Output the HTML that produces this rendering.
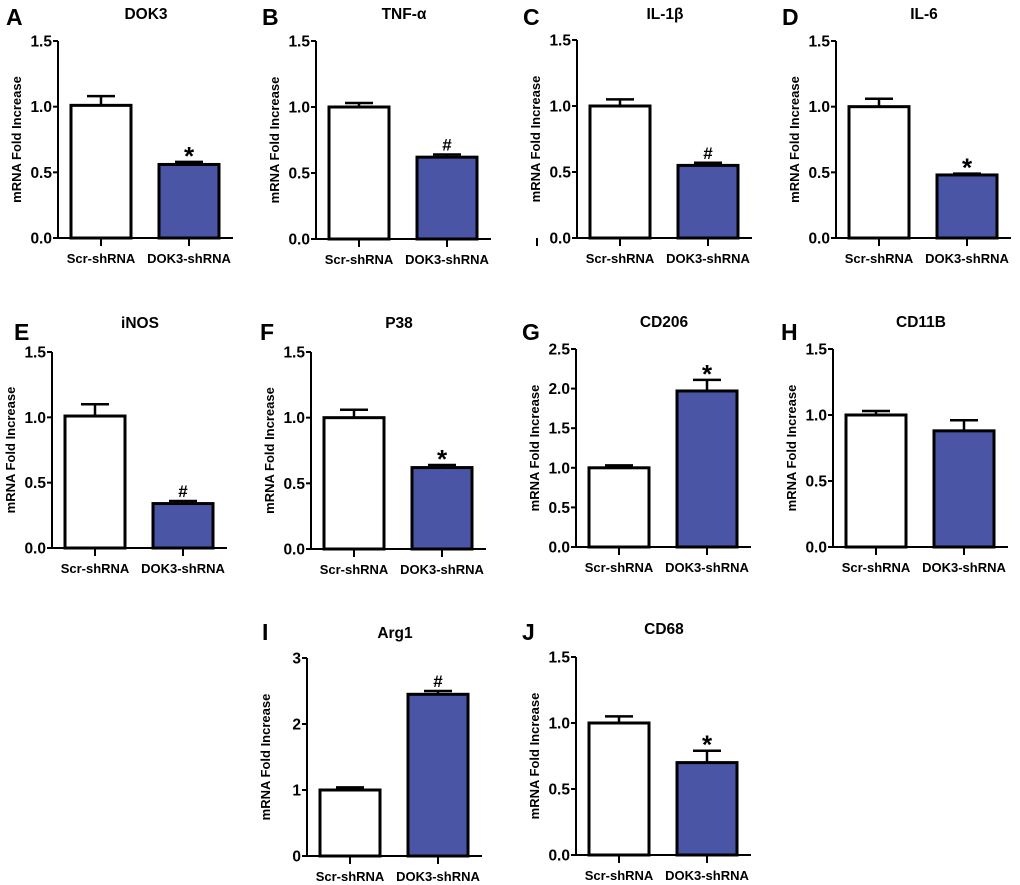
<!DOCTYPE html>
<html><head><meta charset="utf-8"><style>
body{margin:0;background:#fff;}
svg{display:block;font-family:"Liberation Sans",Arial,sans-serif;font-weight:bold;}
</style></head><body>
<svg id="fig" width="1020" height="885" viewBox="0 0 1020 885" xmlns="http://www.w3.org/2000/svg"></svg>
<script>
const panelLetters=["A","B","C","D","E","F","G","H","I","J"];
const panelTitles=["DOK3","TNF-α","IL-1β","IL-6","iNOS","P38","CD206","CD11B","Arg1","CD68"];
const groups=["Scr-shRNA","DOK3-shRNA"];
const scrMeans=[1.01,1.00,1.00,1.00,1.01,1.00,1.00,1.00,1.00,1.00];
const scrErr=[0.07,0.03,0.05,0.06,0.09,0.06,0.03,0.03,0.04,0.05];
const kdMeans=[0.56,0.62,0.55,0.48,0.34,0.62,1.97,0.88,2.45,0.70];
const kdErr=[0.02,0.02,0.02,0.01,0.02,0.02,0.14,0.08,0.05,0.09];
const sigMarks=["*","#","#","*","#","*","*","","#","*"];
const yMax=[1.5,1.5,1.5,1.5,1.5,1.5,2.5,1.5,3,1.5];
const yTicks=[
["0.0","0.5","1.0","1.5"],["0.0","0.5","1.0","1.5"],["0.0","0.5","1.0","1.5"],["0.0","0.5","1.0","1.5"],
["0.0","0.5","1.0","1.5"],["0.0","0.5","1.0","1.5"],["0.0","0.5","1.0","1.5","2.0","2.5"],["0.0","0.5","1.0","1.5"],
["0","1","2","3"],["0.0","0.5","1.0","1.5"]];
// layout (not data): axisX, topY, zeroY, letterX, letterY, titleY
const layout=[[58,41,238,6,25,19],[316,41,239,262,25,19],[577,40,238,523,25,19],[836,41,238,782,25,19],
[52,352,548,14,340,328],[311,352,549,260,340,328],[576,349,547,522,340,327],[833,349,547,781,340,327],
[307,658,856,262,640,638],[576,657,855,522,640,634]];
const NS="http://www.w3.org/2000/svg";
const svg=document.getElementById('fig');
function mk(tag,attrs,parent,text){const e=document.createElementNS(NS,tag);for(const k in attrs)e.setAttribute(k,attrs[k]);if(text!==undefined)e.textContent=text;(parent||svg).appendChild(e);return e;}
panelLetters.forEach((L,i)=>{
  const [ax,top,zero,lx,ly,ty]=layout[i];
  const g=mk('g',{});
  
  
  const y=v=>zero-(v/yMax[i])*(zero-top);
  const t1=mk('text',{x:lx,y:ly,style:'font-size:23px'},g,L);
  
  
  const t2=mk('text',{x:ax+88,y:ty,style:'font-size:15.5px','text-anchor':'middle'},g,panelTitles[i]);
  
  
  const yl=mk('text',{x:0,y:0,style:'font-size:13px','text-anchor':'middle',transform:`translate(${ax-37},${(top+zero)/2}) rotate(-90)`},g,'mRNA Fold Increase');
  
  
  const bars=[[13,73,scrMeans[i],scrErr[i],'#fff'],[101,161,kdMeans[i],kdErr[i],'#4a56a5']];
  bars.forEach((b,j)=>{
    const x0=ax+b[0],x1=ax+b[1],cx=(x0+x1)/2,yt=y(b[2]),ye=y(b[2]+b[3]);
    const ln=mk('line',{x1:cx,x2:cx,y1:yt,y2:ye,stroke:'#000','stroke-width':2.5},g);
    
    
    const cap=mk('line',{x1:cx-14,x2:cx+14,y1:ye,y2:ye,stroke:'#000','stroke-width':2.5},g);
    
    
    const r=mk('rect',{x:x0,y:yt,width:x1-x0,height:zero-yt,fill:b[4],stroke:'#000','stroke-width':3},g);
    
    
    const xt=mk('line',{x1:cx,x2:cx,y1:zero,y2:zero+8,stroke:'#000','stroke-width':2},g);
    
    
    const xl=mk('text',{x:cx,y:zero+25,style:'font-size:13px','text-anchor':'middle'},g,groups[j]);
    
    
    if(j===1&&sigMarks[i]){
      const star=sigMarks[i]==='*';
      const s=mk('text',{x:cx,y:ye+(star?3:-4),style:'font-size:'+(star?'26px':'17px'),'text-anchor':'middle'},g,sigMarks[i]);
      
      
    }
  });
  const yax=mk('line',{x1:ax,x2:ax,y1:top,y2:zero+1,stroke:'#000','stroke-width':2},g);
  
  
  const xax=mk('line',{x1:ax-1,x2:ax+175,y1:zero,y2:zero,stroke:'#000','stroke-width':2},g);
  
  
  yTicks[i].forEach(tl=>{
    const yy=y(parseFloat(tl));
    const tk=mk('line',{x1:ax-5,x2:ax,y1:yy,y2:yy,stroke:'#000','stroke-width':2},g);
    
    
    const tt=mk('text',{x:ax-6,y:yy+5.5,style:'font-size:15.5px','text-anchor':'end'},g,tl);
    
    
  });
});
const stray=mk('line',{x1:537,x2:537,y1:238,y2:246,stroke:'#000','stroke-width':2});


</script>
</body></html>
